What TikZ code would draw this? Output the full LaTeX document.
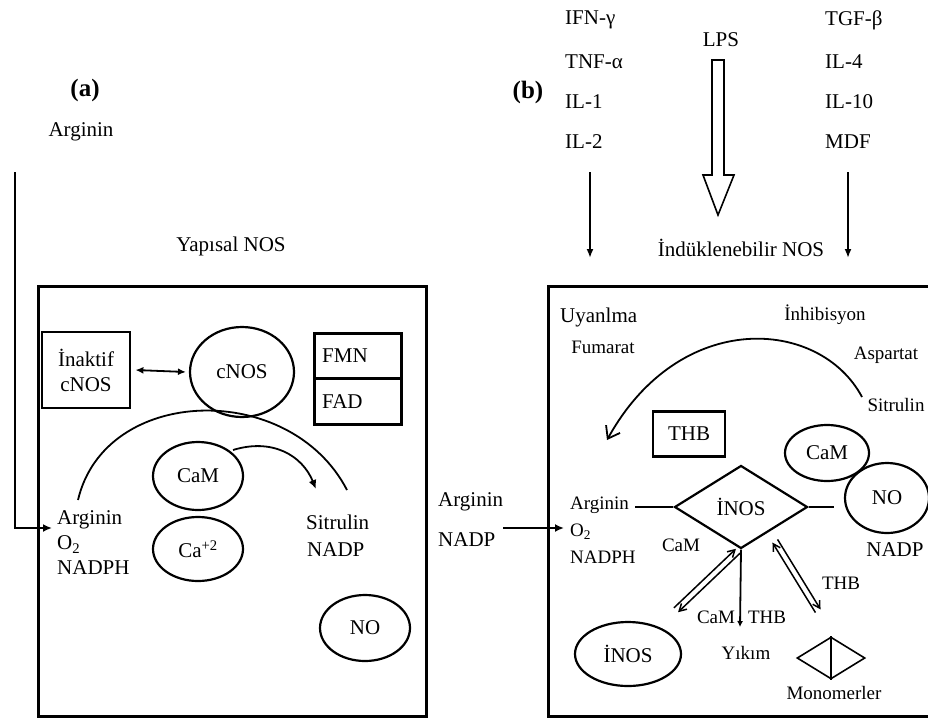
\documentclass[tikz,border=0pt]{standalone}
\usepackage{fontspec}
\setmainfont{Liberation Serif}
\usetikzlibrary{arrows.meta,shapes.geometric,calc}
\newcommand{\fsA}{\fontsize{21}{25}\selectfont}
\newcommand{\fsB}{\fontsize{19}{27}\selectfont}
\newcommand{\fsL}{\fontsize{25}{28}\selectfont\bfseries}
\begin{document}
\begin{tikzpicture}[x=1pt,y=-1pt,
  txt/.style={inner sep=0pt, font=\fsA},
  stxt/.style={inner sep=0pt, font=\fsB},
  ell/.style={draw, ellipse, line width=2.2pt, inner sep=0pt, font=\fsA},
  frame/.style={draw, line width=2.8pt, inner sep=0pt},
  conn/.style={line width=1.8pt},
  fwd/.style={-{Latex[length=9pt,width=8pt]}},
  barb/.style={-{Straight Barb[length=7pt,width=8pt]}}]
\useasboundingbox (0,0) rectangle (928,720);
\clip (0,0) rectangle (928,720);

% ---------------- panel (a) ----------------
\node[txt, font=\fsL] (la) at (85,90) {(a)};
\node[txt] (argTop) at (81,132) {Arginin};
\node[txt] (yapisal) at (231,246) {Yapısal NOS};
\node[frame, minimum width=388, minimum height=430, anchor=north west] (boxA) at (37,285) {};

\node[frame, minimum width=88, minimum height=76, align=center, font=\fsA] (inak) at (86,370) {İnaktif\\cNOS};
\node[ell, minimum width=104, minimum height=90] (cnos) at (242,372) {cNOS};
\draw[conn, {Latex[length=8pt,width=7pt]}-{Latex[length=8pt,width=7pt]}] ([xshift=4pt]inak.east) -- ([xshift=-3pt]cnos.west);

\node[frame, minimum width=87, minimum height=45, anchor=north west] (fmn) at (313,332) {};
\node[frame, minimum width=87, minimum height=46, anchor=north west] (fad) at (313,377) {};
\node[txt, anchor=west] at ($(fmn.west)+(9,0)$) {FMN};
\node[txt, anchor=west] at ($(fad.west)+(9,0)$) {FAD};

\node[ell, minimum width=90, minimum height=68] (camA) at (198,476) {CaM};
\node[ell, minimum width=90, minimum height=64] (caA) at (198,549) {Ca\textsuperscript{+2}};
\node[ell, minimum width=90, minimum height=66] (noA) at (365,628) {NO};

\node[txt, align=left, anchor=west] (subA) at (57,543) {Arginin\\O\textsubscript{2}\\NADPH};
\node[txt, anchor=west] (sitA) at (306,522) {Sitrulin};
\node[txt, anchor=west] (nadpA) at (307,550) {NADP};

\coordinate (arcA1) at (78,500);
\coordinate (arcA2) at (347,490);
\draw[conn] (arcA1) .. controls (105,385) and (290,380) .. (arcA2);
\coordinate (camArc) at (233,450);
\coordinate (camArcEnd) at (316,489);
\draw[conn, fwd] (camArc) .. controls (272,438) and (302,455) .. (camArcEnd);

\coordinate (inA) at (15,172);
\coordinate (inAend) at (52,528);
\draw[conn, line width=2.6pt, fwd] (inA) |- (inAend);

% ---------------- middle ----------------
\node[txt, anchor=west] (argM) at (438,502) {Arginin};
\node[txt, anchor=west] (nadpM) at (438,540) {NADP};
\coordinate (mid1) at (503,528);
\coordinate (mid2) at (564,528);
\draw[conn, line width=2.2pt, fwd] (mid1) -- (mid2);

% ---------------- panel (b) ----------------
\node[txt, font=\fsL] (lb) at (528,92) {(b)};
\node[txt, anchor=west] (ifn) at (565,20) {IFN-γ};
\node[txt, anchor=west] (tnf) at (565,62) {TNF-α};
\node[txt, anchor=west] (il1) at (565,102) {IL-1};
\node[txt, anchor=west] (il2) at (565,142) {IL-2};
\node[txt] (lps) at (721,40) {LPS};
\node[txt, anchor=west] (tgf) at (825,20) {TGF-β};
\node[txt, anchor=west] (il4) at (825,62) {IL-4};
\node[txt, anchor=west] (il10) at (825,102) {IL-10};
\node[txt, anchor=west] (mdf) at (825,142) {MDF};
\node[txt] (indu) at (741,248) {İndüklenebilir NOS};

\coordinate (upL1) at (590,172);
\coordinate (upL2) at (590,258);
\coordinate (upR1) at (848,172);
\coordinate (upR2) at (848,258);
\draw[conn, line width=2.6pt, -{Latex[length=9pt,width=7pt]}] (upL1) -- (upL2);
\draw[conn, line width=2.6pt, -{Latex[length=9pt,width=7pt]}] (upR1) -- (upR2);
\draw[line width=1.6pt, line join=miter]
  (712,60) -- (724,60) -- (724,175) -- (734,175) -- (718,215) -- (703,175) -- (712,175) -- cycle;

\node[frame, minimum width=400, minimum height=430, anchor=north west] (boxB) at (547,285) {};

\node[txt, anchor=west] (uyan) at (560,317) {Uyanlma};
\node[stxt] (fum) at (603,347) {Fumarat};
\node[stxt] (inh) at (825,315) {İnhibisyon};
\node[stxt] (asp) at (886,355) {Aspartat};
\node[stxt] (sitB) at (896,405) {Sitrulin};

\coordinate (arcB1) at (862,397);
\coordinate (arcB2) at (607,440);
\draw[conn, -{Straight Barb[length=11pt,width=16pt]}] (arcB1) .. controls (820,318) and (680,308) .. (arcB2);

\node[frame, line width=2.4pt, minimum width=72, minimum height=45] (thb) at (689,434) {\fsA THB};
\node[ell, minimum width=84, minimum height=56] (camB) at (827,453) {CaM};
\node[ell, minimum width=84, minimum height=70] (noB) at (887,498) {NO};
\node[txt] (nadpB) at (895,550) {NADP};

\node[draw, diamond, line width=2.2pt, inner sep=0pt, aspect=1.6, minimum width=133, minimum height=83, font=\fsA] (dia) at (741,507) {İNOS};
\node[stxt, align=left, anchor=west] (subB) at (570,530) {Arginin\\O\textsubscript{2}\\NADPH};
\draw[conn, line width=2.4pt] ($(dia.west)+(-38,0)$) -- (dia.west);
\draw[conn, line width=2.4pt] (dia.east) -- ($(dia.east)+(25,0)$);

\node[stxt] (camB2) at (681,545) {CaM};
\node[stxt] (camB3) at (716,617) {CaM};
\node[stxt] (thbB2) at (767,617) {THB};
\node[stxt] (yikim) at (746,653) {Yıkım};
\node[stxt] (thbB3) at (841,583) {THB};

\node[ell, minimum width=106, minimum height=64] (inosE) at (628,654) {İNOS};
\node[draw, diamond, line width=1.6pt, inner sep=0pt, minimum width=68, minimum height=42] (mono) at (831,658) {};
\draw[line width=1.6pt] (mono.north) -- (mono.south);
\node[stxt] (monoT) at (834,693) {Monomerler};

% double arrows
\coordinate (dA) at (738,551);
\coordinate (dB) at (676,610);
\draw[conn, line width=1.5pt, barb] ($(dA)!3pt!90:(dB)$) -- ($(dB)!3pt!-90:(dA)$);
\draw[conn, line width=1.5pt, barb] ($(dB)!3pt!90:(dA)$) -- ($(dA)!3pt!-90:(dB)$);
\coordinate (dC) at (775,541);
\coordinate (dD) at (818,611);
\draw[conn, line width=1.5pt, barb] ($(dC)!3pt!90:(dD)$) -- ($(dD)!3pt!-90:(dC)$);
\draw[conn, line width=1.5pt, barb] ($(dD)!3pt!90:(dC)$) -- ($(dC)!3pt!-90:(dD)$);
\coordinate (yk) at (740,627);
\draw[conn, -{Latex[length=6pt,width=6pt]}] (dia.south) -- (yk);
\end{tikzpicture}
\end{document}
